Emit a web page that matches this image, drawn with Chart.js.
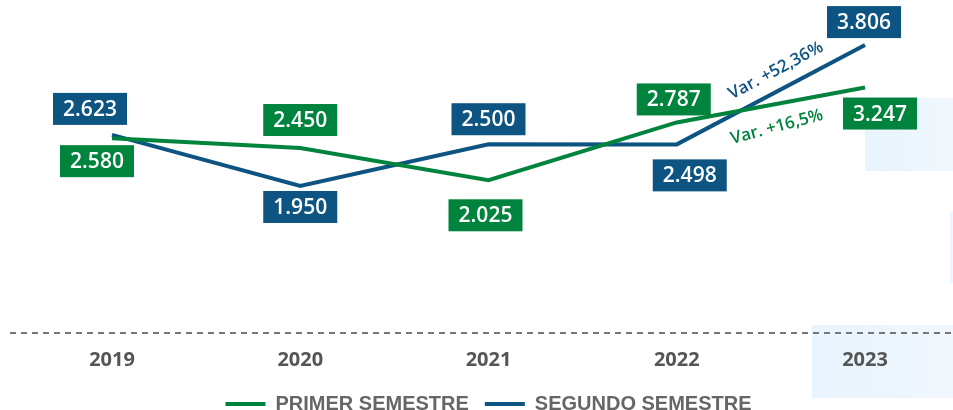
<!DOCTYPE html>
<html><head><meta charset="utf-8">
<script src="https://cdn.jsdelivr.net/npm/chart.js@4/dist/chart.umd.min.js"></script>
<style>html,body{margin:0;padding:0;background:#fff}#wrap{width:953px;height:410px}</style>
</head><body><div id="wrap"><canvas id="c"></canvas></div>
<script>
const years = ['2019','2020','2021','2022','2023'];
const primerSemestre = [2580, 2450, 2025, 2787, 3247];
const segundoSemestre = [2623, 1950, 2500, 2498, 3806];
const seriesNames = ['PRIMER SEMESTRE', 'SEGUNDO SEMESTRE'];
const variationTexts = ['Var. +16,5%', 'Var. +52,36%'];

const GREEN = '#00843d', BLUE = '#0e5482';
const fmt = v => v.toLocaleString('de-DE');

// label offsets (style) per dataset & point
const labelOffsets = [
  [[-15, 23], [0, -28], [-3, 35], [-3, -23], [15, 26]],
  [[-22, -26], [0, 21], [0, -25], [13, 31], [-1, -23]]
];

const deco = {
  id: 'deco',
  beforeDraw(chart) {
    const ctx = chart.ctx, W = chart.width;
    const g = (x0, x1) => { const gr = ctx.createLinearGradient(x0, 0, x1, 0); gr.addColorStop(0, '#e8f4fe'); gr.addColorStop(1, '#f1f7fd'); return gr; };
    ctx.save();
    ctx.fillStyle = g(865, W); ctx.fillRect(865, 98, W - 865, 73);
    ctx.fillStyle = g(950, W); ctx.fillRect(950, 211, W - 950, 72);
    ctx.fillStyle = g(812, W); ctx.fillRect(812, 325, W - 812, 73);
    const y = chart.chartArea.bottom - 1;
    ctx.strokeStyle = '#777'; ctx.lineWidth = 2; ctx.setLineDash([6, 5]);
    ctx.beginPath(); ctx.moveTo(10, y); ctx.lineTo(W, y); ctx.stroke();
    ctx.restore();
  },
  afterDatasetsDraw(chart) {
    const ctx = chart.ctx;
    ctx.save();
    chart.data.datasets.forEach((ds, di) => {
      const m = chart.getDatasetMeta(di).data;
      const a = m[3], b = m[4];
      const cx = (a.x + b.x) / 2, cy = (a.y + b.y) / 2;
      const off = di === 0 ? [6, 22] : [5, -24];
      const ang = di === 0 ? -15 : -28;
      ctx.save();
      ctx.translate(cx + off[0], cy + off[1]);
      ctx.rotate(ang * Math.PI / 180);
      ctx.fillStyle = ds.borderColor;
      ctx.font = '600 17px "Open Sans", sans-serif';
      ctx.textAlign = 'center'; ctx.textBaseline = 'middle';
      ctx.fillText(variationTexts[di], 0, 0);
      ctx.restore();
    });
    chart.data.datasets.forEach((ds, di) => {
      const m = chart.getDatasetMeta(di).data;
      m.forEach((p, i) => {
        const [dx, dy] = labelOffsets[di][i];
        const cx = p.x + dx, cy = p.y + dy;
        ctx.fillStyle = ds.borderColor;
        ctx.fillRect(cx - 37, cy - 16, 74, 32);
        ctx.fillStyle = '#fff';
        ctx.font = '600 21px "Open Sans", sans-serif';
        ctx.textAlign = 'center'; ctx.textBaseline = 'middle';
        ctx.fillText(fmt(ds.data[i]), cx, cy + 1);
      });
    });
    ctx.restore();
  }
};

new Chart(document.getElementById('c'), {
  type: 'line',
  data: {
    labels: years,
    datasets: [
      { label: seriesNames[0], data: primerSemestre, borderColor: GREEN, backgroundColor: GREEN, borderWidth: 4, pointRadius: 0, tension: 0 },
      { label: seriesNames[1], data: segundoSemestre, borderColor: BLUE, backgroundColor: BLUE, borderWidth: 4, pointRadius: 0, tension: 0 }
    ]
  },
  options: {
    responsive: true, maintainAspectRatio: false, animation: false,
    layout: { padding: { left: 112, right: 88, top: 0, bottom: -14 } },
    scales: {
      x: {
        offset: false,
        grid: { display: false }, border: { display: false },
        ticks: { color: '#555', font: { family: '"Open Sans", sans-serif', size: 20, weight: '700' }, padding: 6 }
      },
      y: { display: false, min: 0, max: 4400 }
    },
    plugins: {
      legend: {
        position: 'bottom',
        labels: {
          usePointStyle: true, pointStyle: 'line', pointStyleWidth: 40,
          color: '#666', padding: 16,
          font: { family: '"Liberation Sans", sans-serif', size: 20, weight: 'bold' }
        }
      },
      tooltip: { enabled: false }
    }
  },
  plugins: [deco]
});
</script></body></html>
